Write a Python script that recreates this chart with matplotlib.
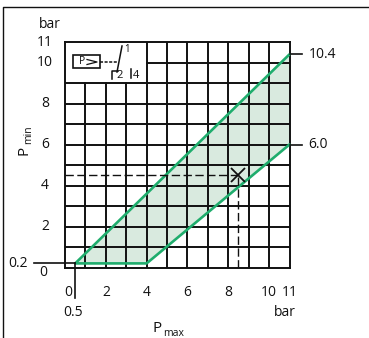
"""
Pmin / Pmax operating range chart, drawn on a 0-11 bar grid.
"""
import matplotlib
matplotlib.use('Agg')
import matplotlib.pyplot as plt

plt.rcParams['font.family'] = ['Open Sans', 'DejaVu Sans']

W, H = 369, 338

GRID = list(range(0, 12))
X_TICKS = [0, 2, 4, 6, 8, 10, 11]
Y_TICKS = [0, 2, 4, 6, 8, 10, 11]

# operating range corners
RANGE_PMAX = [11, 0.5, 4, 11]
RANGE_PMIN = [10.4, 0.2, 0.2, 6.0]

# working point
POINT_PMAX = 8.5
POINT_PMIN = 4.5

LINE = '#111111'
GREEN = '#1fad6d'
FILL = '#d9eadf'
FS = 10


def px_x(px):
    return (px - 65) / (289.5 - 65) * 11


def px_y(py):
    return (267.5 - py) / (267.5 - 42) * 11


def main():
    fig = plt.figure(figsize=(W / 100, H / 100), dpi=100, facecolor='white')

    # outer frame of the picture
    fig.add_artist(plt.Line2D([3 / W, 3 / W, 1], [0, 1 - 7 / H, 1 - 7 / H],
                              color=LINE, lw=1.0))

    ax = fig.add_axes([65 / W, 1 - 267.5 / H, (289.5 - 65) / W, (267.5 - 42) / H])
    ax.set_xlim(0, 11)
    ax.set_ylim(0, 11)
    ax.set_xticks([])
    ax.set_yticks([])
    ax.patch.set_alpha(0)
    for s in ax.spines.values():
        s.set_linewidth(1.4)
        s.set_color(LINE)

    ax.fill(RANGE_PMAX, RANGE_PMIN, color=FILL, lw=0, zorder=1)

    # grid, with the top left corner left open for the symbol
    for v in GRID[1:-1]:
        ax.plot([v, v], [0, 9 if v < 4 else 11], color=LINE, lw=1.4, zorder=2)
        ax.plot([0 if v < 10 else 4, 11], [v, v], color=LINE, lw=1.4, zorder=2)

    ax.plot(RANGE_PMAX, RANGE_PMIN, color=GREEN, lw=1.9, zorder=3, clip_on=False,
            solid_capstyle='round')

    # working point with its dashed guides
    ax.plot([0, POINT_PMAX], [POINT_PMIN, POINT_PMIN], color=LINE, lw=1.0,
            dashes=(6, 2.5), zorder=4)
    ax.plot([POINT_PMAX, POINT_PMAX], [0, POINT_PMIN], color=LINE, lw=1.0,
            dashes=(6, 2.5), zorder=4)
    ax.plot([POINT_PMAX], [POINT_PMIN], marker='x', ms=10, mew=1.3, color=LINE, zorder=5)

    # leader lines to the labels outside the grid
    ax.plot([px_x(34), 0.5], [0.2, 0.2], color=LINE, lw=1.2, clip_on=False, zorder=4)
    ax.plot([0.5, 0.5], [px_y(298), 0.2], color=LINE, lw=1.2, clip_on=False, zorder=4)
    ax.plot([11, px_x(302)], [10.4, 10.4], color=LINE, lw=1.2, clip_on=False, zorder=4)
    ax.plot([11, px_x(302)], [6.0, 6.0], color=LINE, lw=1.2, clip_on=False, zorder=4)

    # tick labels
    for v in X_TICKS:
        x = px_x(68) if v == 0 else v
        ax.text(x, px_y(293), str(v), ha='center', va='center', fontsize=FS, color=LINE)
    for v in Y_TICKS:
        if v == 0:
            ax.text(px_x(43), px_y(273), '0', ha='center', va='center', fontsize=FS, color=LINE)
        else:
            ax.text(px_x(45), v, str(v), ha='center', va='center', fontsize=FS, color=LINE)

    ax.text(px_x(18), 0.2, '0.2', ha='center', va='center', fontsize=FS, color=LINE)
    ax.text(px_x(73), px_y(312), '0.5', ha='center', va='center', fontsize=FS, color=LINE)
    ax.text(px_x(309), 10.4, '10.4', ha='left', va='center', fontsize=FS, color=LINE)
    ax.text(px_x(308), 6.0, '6.0', ha='left', va='center', fontsize=FS, color=LINE)
    ax.text(px_x(50), px_y(24), 'bar', ha='center', va='center', fontsize=FS, color=LINE)
    ax.text(px_x(285), px_y(312), 'bar', ha='center', va='center', fontsize=FS, color=LINE)

    ax.text(px_x(153), px_y(328), 'P', ha='left', va='center', fontsize=11, color=LINE)
    ax.text(px_x(163), px_y(333), 'max', ha='left', va='center', fontsize=7.5, color=LINE)
    ax.text(px_x(24), px_y(150), 'P', ha='center', va='center', fontsize=11, color=LINE, rotation=90)
    ax.text(px_x(29), px_y(135), 'min', ha='center', va='center', fontsize=7.5, color=LINE, rotation=90)

    # pressure switch symbol
    ax.add_patch(plt.Rectangle((px_x(73), px_y(68)), px_x(100) - px_x(73),
                               px_y(55) - px_y(68), fc='white', ec=LINE, lw=1.2, zorder=4))
    ax.text(px_x(82), px_y(62), 'P', ha='center', va='center', fontsize=7.5, color=LINE, zorder=5)
    ax.plot([px_x(87), px_x(97), px_x(87)], [px_y(59.5), px_y(62), px_y(64.5)],
            color=LINE, lw=0.9, zorder=5)
    ax.plot([px_x(100), px_x(118)], [px_y(62), px_y(62)], color=LINE, lw=1.1, dashes=(2, 1))
    ax.plot([px_x(122), px_x(117)], [px_y(46), px_y(72)], color=LINE, lw=1.1)
    ax.plot([px_x(118), px_x(112), px_x(112)], [px_y(71), px_y(71), px_y(79)], color=LINE, lw=1.1)
    ax.plot([px_x(131), px_x(131)], [px_y(69), px_y(78)], color=LINE, lw=1.1)
    ax.text(px_x(127), px_y(49), '1', ha='center', va='center', fontsize=7, color=LINE)
    ax.text(px_x(120), px_y(76), '2', ha='center', va='center', fontsize=8, color=LINE)
    ax.text(px_x(136), px_y(76), '4', ha='center', va='center', fontsize=8, color=LINE)

    fig.savefig('out.png', dpi=100)


if __name__ == '__main__':
    main()
